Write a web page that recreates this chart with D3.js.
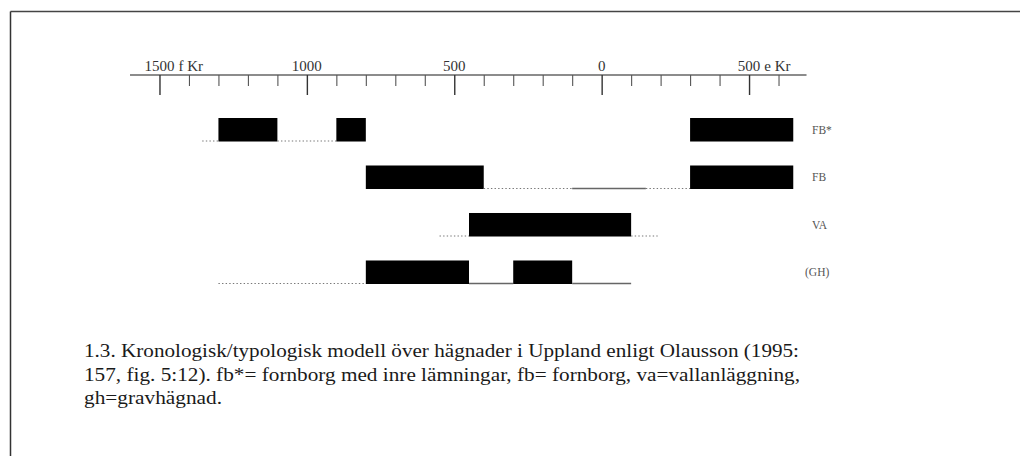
<!DOCTYPE html>
<html>
<head>
<meta charset="utf-8">
<script src="https://cdn.jsdelivr.net/npm/d3@7/dist/d3.min.js"></script>
<style>
  html, body { margin: 0; padding: 0; background: #fff; }
  svg { display: block; }
</style>
</head>
<body>
<svg id="chart" width="1020" height="456"></svg>
<script>
// ---- data ----
const rows = ["FB*", "FB", "VA", "(GH)"];
// segments per row: [start year, end year, kind] (negative = f Kr)
const fbStarSegments = [[-1355, -1300, "dotted"], [-1300, -1100, "bar"], [-1100, -900, "dotted"], [-900, -800, "bar"], [300, 650, "bar"]];
const fbSegments = [[-800, -400, "bar"], [-400, -100, "dotted"], [-100, 150, "solid"], [150, 300, "dotted"], [300, 650, "bar"]];
const vaSegments = [[-550, -450, "dotted"], [-450, 100, "bar"], [100, 190, "dotted"]];
const ghSegments = [[-1300, -800, "dotted"], [-800, -450, "bar"], [-450, -300, "solid"], [-300, -100, "bar"], [-100, 100, "solid"]];
const rowSegments = [fbStarSegments, fbSegments, vaSegments, ghSegments];
const majorTicks = [-1500, -1000, -500, 0, 500];
const minorTicks = [-1400, -1300, -1200, -1100, -900, -800, -700, -600, -400, -300, -200, -100, 100, 200, 300, 400, 600];
const tickLabels = ["1500", "1000", "500", "0", "500"];
const tickSuffix = ["f Kr", "", "", "", "e Kr"];
const captionLines = [
  "1.3. Kronologisk/typologisk modell över hägnader i Uppland enligt Olausson (1995:",
  "157, fig. 5:12). fb*= fornborg med inre lämningar, fb= fornborg, va=vallanläggning,",
  "gh=gravhägnad."
];

// ---- layout ----
const svg = d3.select("#chart");
const serif = "'Liberation Serif', 'DejaVu Serif', serif";

// frame
svg.append("line").attr("x1", 10.5).attr("x2", 1020).attr("y1", 11.5).attr("y2", 11.5)
  .attr("stroke", "#444").attr("stroke-width", 1.5);
svg.append("line").attr("x1", 10.5).attr("x2", 10.5).attr("y1", 11.5).attr("y2", 456)
  .attr("stroke", "#333").attr("stroke-width", 1.5);

const x = d3.scaleLinear().domain([-1600, 700]).range([130, 808]);
const y = d3.scaleBand().domain(rows).range([118, 284]).paddingInner(0.505).paddingOuter(0);
const axisY = 75;

// axis line
svg.append("line").attr("x1", x(-1600)).attr("x2", x(695)).attr("y1", axisY).attr("y2", axisY)
  .attr("stroke", "#666").attr("stroke-width", 1.3);

const axisMajor = d3.axisBottom(x).tickValues(majorTicks).tickSize(20).tickFormat("");
const gMaj = svg.append("g").attr("transform", `translate(0,${axisY})`).call(axisMajor);
gMaj.select(".domain").remove();
gMaj.selectAll(".tick line").attr("stroke", "#333").attr("stroke-width", 1.4);

const axisMinor = d3.axisBottom(x).tickValues(minorTicks).tickSize(11).tickFormat("");
const gMin = svg.append("g").attr("transform", `translate(0,${axisY})`).call(axisMinor);
gMin.select(".domain").remove();
gMin.selectAll(".tick line").attr("stroke", "#555").attr("stroke-width", 1.1);

// tick labels
majorTicks.forEach((t, i) => {
  const num = svg.append("text").attr("x", x(t)).attr("y", 71)
    .attr("text-anchor", "middle").attr("font-family", serif).attr("font-size", 15)
    .attr("fill", "#333").text(tickLabels[i]);
  if (tickSuffix[i]) {
    const w = num.node().getComputedTextLength();
    svg.append("text").attr("x", x(t) + w / 2 + 4).attr("y", 71)
      .attr("font-family", serif).attr("font-size", 15).attr("fill", "#333").text(tickSuffix[i]);
  }
});

// rows
rows.forEach((r, i) => {
  const top = y(r), h = y.bandwidth(), bottom = top + h;
  const g = svg.append("g");
  rowSegments[i].forEach(([s, e, kind]) => {
    if (kind === "bar") {
      g.append("rect").attr("x", x(s)).attr("y", top).attr("width", x(e) - x(s)).attr("height", h)
        .attr("fill", "#000");
    } else if (kind === "dotted") {
      g.append("line").attr("x1", x(s)).attr("x2", x(e)).attr("y1", bottom - 0.5).attr("y2", bottom - 0.5)
        .attr("stroke", "#777").attr("stroke-width", 1.2).attr("stroke-dasharray", "1.4 2.2");
    } else {
      g.append("line").attr("x1", x(s)).attr("x2", x(e)).attr("y1", bottom - 0.5).attr("y2", bottom - 0.5)
        .attr("stroke", "#666").attr("stroke-width", 1.6);
    }
  });
  svg.append("text").attr("x", r === "(GH)" ? 805 : 812).attr("y", top + h / 2 + 4)
    .attr("font-family", serif).attr("font-size", 11.5).attr("fill", "#555").text(r);
});

// caption
const capY = [357, 381, 404];
const capW = [715, 716, 138];
captionLines.forEach((line, i) => {
  svg.append("text").attr("x", 84).attr("y", capY[i])
    .attr("font-family", serif).attr("font-size", 18.5).attr("fill", "#1a1a1a")
    .attr("textLength", capW[i]).attr("lengthAdjust", "spacingAndGlyphs")
    .text(line);
});
</script>
</body>
</html>
